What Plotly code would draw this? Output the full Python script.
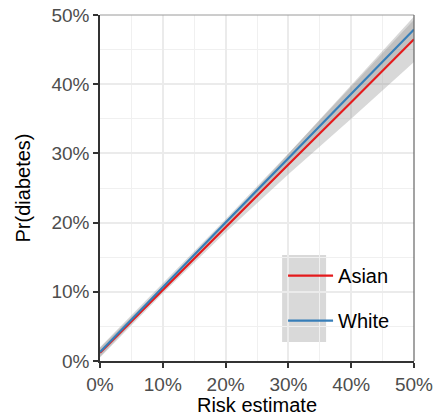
import plotly.graph_objects as go

# data (fractions)
risk = [0.0, 0.1, 0.2, 0.3, 0.4, 0.5]
asian = [0.012, 0.103, 0.193, 0.284, 0.374, 0.465]
asian_lo = [0.005, 0.098, 0.186, 0.270, 0.350, 0.432]
asian_hi = [0.019, 0.108, 0.200, 0.299, 0.399, 0.498]
white = [0.013, 0.107, 0.200, 0.293, 0.386, 0.479]
white_lo = [0.006, 0.102, 0.195, 0.286, 0.376, 0.465]
white_hi = [0.020, 0.112, 0.205, 0.300, 0.396, 0.493]
groups = ["Asian", "White"]
colors = ["#E41A1C", "#377EB8"]
band_fill = "rgba(153,153,153,0.38)"
tick_vals = [0, 0.1, 0.2, 0.3, 0.4, 0.5]
tick_text = ["0%", "10%", "20%", "30%", "40%", "50%"]

fig = go.Figure()
for name, y, lo, hi, col in [("Asian", asian, asian_lo, asian_hi, colors[0]),
                             ("White", white, white_lo, white_hi, colors[1])]:
    fig.add_trace(go.Scatter(x=risk + risk[::-1], y=hi + lo[::-1], fill="toself",
                             fillcolor=band_fill, line=dict(width=0), mode="lines",
                             showlegend=False, hoverinfo="skip"))
for name, y, col in [("Asian", asian, colors[0]), ("White", white, colors[1])]:
    fig.add_trace(go.Scatter(x=risk, y=y, mode="lines", name=name, legendgroup=name,
                             line=dict(color=col, width=2.2)))

axis_common = dict(
    range=[0, 0.5], tickvals=tick_vals, ticktext=tick_text, automargin=False,
    showgrid=True, gridcolor="#ebebeb", gridwidth=1.5,
    minor=dict(dtick=0.05, showgrid=True, gridcolor="#f0f0f0", gridwidth=1),
    showline=True, linecolor="#333333", linewidth=1.5,
    ticks="outside", ticklen=5, tickwidth=1.5, tickcolor="#333333",
    tickfont=dict(family="Liberation Sans, Arial, sans-serif", size=19, color="#4d4d4d"),
    zeroline=False, fixedrange=True,
)
fig.update_xaxes(**axis_common, title=dict(text="Risk estimate",
                 font=dict(family="Liberation Sans, Arial, sans-serif", size=20, color="#000")))
fig.update_yaxes(**axis_common, title=dict(text="Pr(diabetes)",
                 font=dict(family="Liberation Sans, Arial, sans-serif", size=20, color="#000")))

fig.add_shape(type="line", xref="paper", yref="paper", x0=0, x1=1, y0=1, y1=1,
              line=dict(color="#9a9a9a", width=1))
fig.add_shape(type="line", xref="paper", yref="paper", x0=1, x1=1, y0=0, y1=1,
              line=dict(color="#666666", width=1.2))
fig.add_shape(type="rect", xref="paper", yref="paper", x0=0.580, x1=0.720, y0=0.055, y1=0.306,
              fillcolor="#d9d9d9", line=dict(width=0), layer="between")

fig.update_layout(
    width=436, height=416,
    margin=dict(l=100, r=22, t=15, b=55),
    plot_bgcolor="white", paper_bgcolor="white",
    font=dict(family="Liberation Sans, Arial, sans-serif"),
    legend=dict(x=0.583, y=0.303, xanchor="left", yanchor="top",
                bgcolor="rgba(0,0,0,0)", itemwidth=45,
                traceorder="grouped", tracegroupgap=16,
                font=dict(size=20, color="#000")),
)
fig.write_html("out.html")
